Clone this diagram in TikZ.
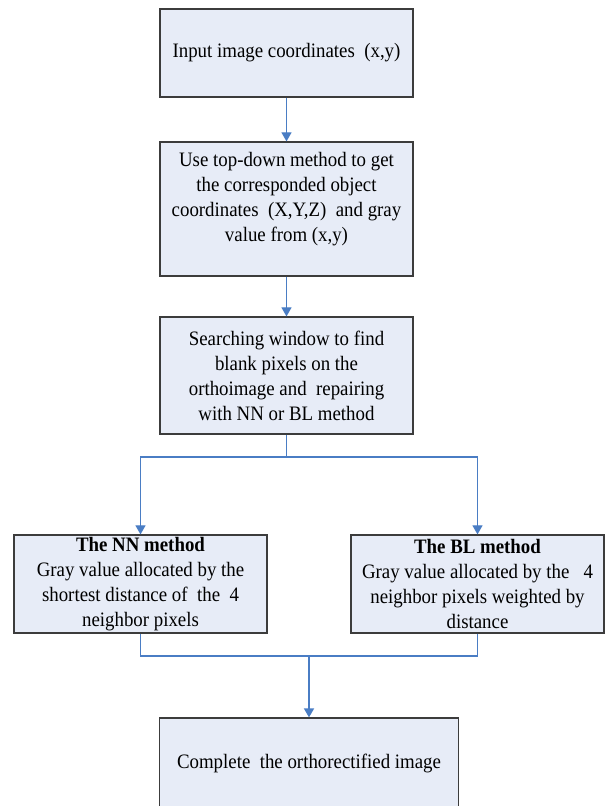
\documentclass[tikz,border=0pt]{standalone}
\usepackage{fontspec}
\setmainfont[FakeStretch=0.92]{Liberation Serif}
\usetikzlibrary{arrows.meta}
\definecolor{boxfill}{RGB}{231,236,247}
\definecolor{boxline}{RGB}{60,60,60}
\definecolor{linkblue}{RGB}{74,125,196}
\tikzset{
  procbox/.style={draw=boxline, fill=boxfill, line width=1.2pt, inner sep=0pt,
    align=center, font=\fontsize{20.5}{25}\selectfont},
  link/.style={draw=linkblue, line width=1.1pt},
  arrowlink/.style={link, -{Triangle[length=9pt,width=10pt]}},
}
\begin{document}
\begin{tikzpicture}[x=1pt,y=-1pt]
\useasboundingbox (0,0) rectangle (605,806);
\clip (0,0) rectangle (605,806);
\node[procbox, minimum width=253pt, minimum height=88pt] (input) at (286.5,53)
  {Input image coordinates~~(x,y)};
\node[procbox, minimum width=253pt, minimum height=134pt] (topdown) at (286.5,209)
  {Use top-down method to get\\ the corresponded object\\ coordinates~~(X,Y,Z)~~and gray\\ value from (x,y)\\ \mbox{}};
\node[procbox, minimum width=253pt, minimum height=117pt] (search) at (286.5,375.5)
  {Searching window to find\\ blank pixels on the\\ orthoimage and~~repairing\\ with NN or BL method};
\node[procbox, minimum width=253pt, minimum height=98pt] (nn) at (140.5,584)
  {\textbf{The NN method}\\ Gray value allocated by the\\ shortest distance of~~the~~4\\ neighbor pixels};
\node[procbox, minimum width=253pt, minimum height=98pt] (bl) at (477.5,584)
  {\textbf{The BL method}\\ Gray value allocated by the~~~4\\ neighbor pixels weighted by\\ distance};
\node[procbox, minimum width=299pt, minimum height=90pt] (complete) at (309,763)
  {Complete~~the orthorectified image};
\coordinate (split) at (286.5,457);
\coordinate (merge) at (309,656);
\draw[arrowlink] (input) -- (topdown);
\draw[arrowlink] (topdown) -- (search);
\draw[link] (search.south) -- (split);
\draw[arrowlink] (split) -| (nn.north);
\draw[arrowlink] (split) -| (bl.north);
\draw[link] (nn.south) |- (merge);
\draw[link] (bl.south) |- (merge);
\draw[arrowlink, line width=1.6pt] (merge) -- (complete.north);
\end{tikzpicture}
\end{document}
